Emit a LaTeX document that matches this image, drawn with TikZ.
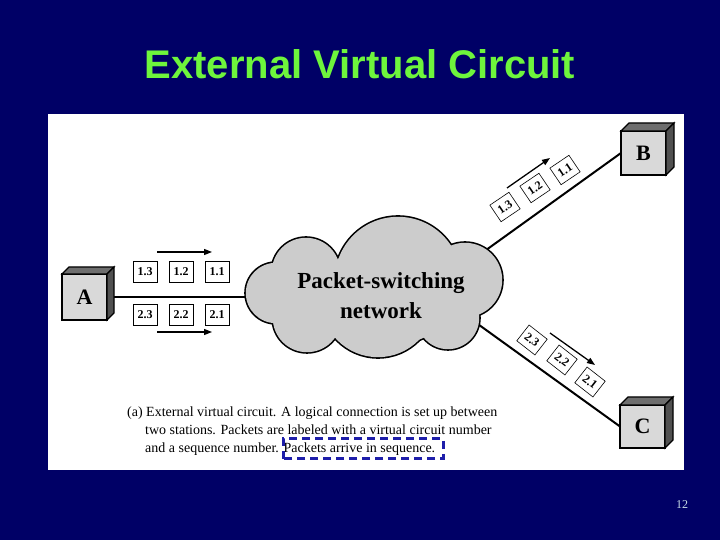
\documentclass[tikz,border=0pt]{standalone}
\usepackage{fontspec}
\setmainfont{Liberation Serif}
\newfontfamily\titlefont{Liberation Sans}
\usetikzlibrary{calc,arrows.meta}
\definecolor{navy}{RGB}{0,0,102}
\definecolor{titlegreen}{RGB}{110,245,60}
\definecolor{dashblue}{RGB}{30,30,170}
\definecolor{frontgray}{RGB}{217,217,217}
\definecolor{topgray}{RGB}{110,110,110}
\definecolor{sidegray}{RGB}{80,80,80}
\definecolor{cloudgray}{RGB}{204,204,204}
\definecolor{pagenum}{RGB}{200,220,230}
\tikzset{
  station/.style={draw, line width=1.6pt, fill=frontgray, outer sep=0pt, inner sep=0pt,
    font=\fontsize{22}{24}\selectfont\bfseries},
  pkt/.style={draw, line width=0.6pt, fill=white, minimum width=24pt, minimum height=21pt,
    inner sep=0pt, font=\fontsize{12}{13}\selectfont\bfseries},
  pktbox/.style={draw, line width=0.6pt, fill=white},
  pktlabel/.style={inner sep=0pt, font=\fontsize{12}{13}\selectfont\bfseries},
  link/.style={line width=2pt},
  flow/.style={line width=1.3pt, -{Triangle[length=8pt,width=6pt]}},
  captxt/.style={anchor=base west, inner sep=0pt, font=\fontsize{14}{16}\selectfont},
}
\newcommand{\cube}[2]{%
  \fill[topgray, draw=black, line width=1.2pt] (#1.north west) -- ++(#2,#2) -- ($(#1.north east)+(#2,#2)$) -- (#1.north east) -- cycle;
  \fill[sidegray, draw=black, line width=1.2pt] (#1.north east) -- ++(#2,#2) -- ($(#1.south east)+(#2,#2)$) -- (#1.south east) -- cycle;
}
\newcommand{\rotpkt}[2]{% center, angle
  \draw[pktbox, shift={#1}, rotate=#2] (-11.5,-10) rectangle (11.5,10);
}
\begin{document}
\begin{tikzpicture}[x=1pt,y=1pt]
\useasboundingbox (0,0) rectangle (720,540);
\fill[navy] (0,0) rectangle (720,540);
\node[font=\titlefont\fontsize{40}{44}\selectfont\bfseries, text=titlegreen] (title) at (360,476) {External Virtual Circuit};
\fill[white] (48,70) rectangle (684,426);

\coordinate (cloudL) at (247,243);
\coordinate (cloudB) at (475,282);
\coordinate (cloudC) at (475,218);

% stations and links
\node[station, minimum width=45pt, minimum height=46pt] (A) at (84.5,243) {A};
\node[station, minimum width=45pt, minimum height=44pt] (B) at (643.5,387) {B};
\node[station, minimum width=45pt, minimum height=43pt] (C) at (642.5,113.5) {C};
\draw[link] (A.east) -- (cloudL);
\draw[link] (cloudB) -- (B.west);
\draw[link] (cloudC) -- (C.west);

% cloud as union of circles
\foreach \cx/\cy/\r in {276/247/31, 306/268/35, 398/260/64, 465/260/38, 448/222/32, 378/240/58, 307/222/35}
  \fill[black] (\cx,\cy) circle ({\r+0.8});
\foreach \cx/\cy/\r in {276/247/31, 306/268/35, 398/260/64, 465/260/38, 448/222/32, 378/240/58, 307/222/35}
  \fill[cloudgray] (\cx,\cy) circle ({\r-0.8});
\node[font=\fontsize{23}{30}\selectfont\bfseries, align=center] (net) at (381,244) {Packet-switching\\network};

\cube{A}{7}
\cube{B}{8}
\cube{C}{8}

% packets A side
\node[pkt] (p13) at (145,268.5) {1.3};
\node[pkt] (p12) at (181,268.5) {1.2};
\node[pkt] (p11) at (217,268.5) {1.1};
\node[pkt] (p23) at (145,225) {2.3};
\node[pkt] (p22) at (181,225) {2.2};
\node[pkt] (p21) at (217,225) {2.1};
\coordinate (ta1) at (157,288); \coordinate (ta2) at (212,288);
\coordinate (ba1) at (157,208); \coordinate (ba2) at (212,208);
\draw[flow] (ta1) -- (ta2);
\draw[flow] (ba1) -- (ba2);

% packets towards B
\rotpkt{(505,333)}{34}
\rotpkt{(535,352)}{34}
\rotpkt{(565,370)}{34}
\node[pktlabel, rotate=34] (q13) at (505,333) {1.3};
\node[pktlabel, rotate=34] (q12) at (535,352) {1.2};
\node[pktlabel, rotate=34] (q11) at (565,370) {1.1};
\coordinate (bb1) at (507,352); \coordinate (bb2) at (550,382);
\draw[flow] (bb1) -- (bb2);

% packets towards C
\rotpkt{(532,200)}{-38}
\rotpkt{(562,180)}{-38}
\rotpkt{(590,158)}{-38}
\node[pktlabel, rotate=-38] (r23) at (532,200) {2.3};
\node[pktlabel, rotate=-38] (r22) at (562,180) {2.2};
\node[pktlabel, rotate=-38] (r21) at (590,158) {2.1};
\coordinate (cc1) at (550,207); \coordinate (cc2) at (595,175);
\draw[flow] (cc1) -- (cc2);

% caption
\node[captxt] (cap1) at (127,123) {(a) External virtual circuit. A logical connection is set up between};
\node[captxt] (cap2) at (145,105) {two stations. Packets are labeled with a virtual circuit number};
\node[captxt] (cap3) at (145,87) {and a sequence number. Packets arrive in sequence.};
\draw[dashblue, line width=3pt, dash pattern=on 8pt off 5pt] (283,81) rectangle (443,101);

\node[text=pagenum, font=\fontsize{12}{14}\selectfont] (pg) at (682,35) {12};
\end{tikzpicture}
\end{document}
